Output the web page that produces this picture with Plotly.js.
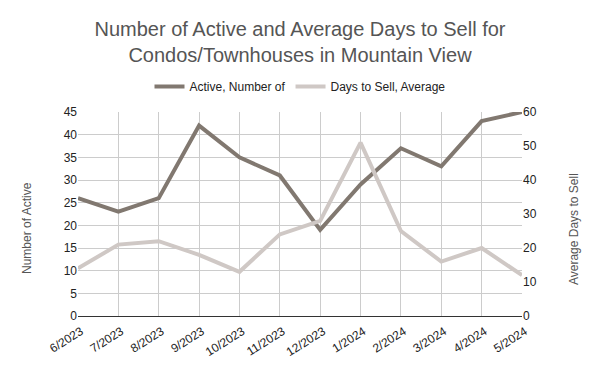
<!DOCTYPE html>
<html>
<head>
<meta charset="utf-8">
<script src="https://cdn.plot.ly/plotly-3.0.1.min.js"></script>
<style>html,body{margin:0;padding:0;background:#fff;}#chart{width:600px;height:371px;}</style>
</head>
<body>
<div id="chart"></div>
<script>
var months = ["6/2023","7/2023","8/2023","9/2023","10/2023","11/2023","12/2023","1/2024","2/2024","3/2024","4/2024","5/2024"];
var activeCount = [26, 23, 26, 42, 35, 31, 19, 29, 37, 33, 43, 45];
var daysToSell = [14, 21, 22, 18, 13, 24, 28, 51, 25, 16, 20, 12];

var font = "Liberation Sans, Arial, sans-serif";
var traces = [
  {x: months, y: activeCount, name: "Active, Number of", type: "scatter", mode: "lines",
   line: {color: "#817870", width: 4}, yaxis: "y"},
  {x: months, y: daysToSell, name: "Days to Sell, Average", type: "scatter", mode: "lines",
   line: {color: "#cfc8c5", width: 4}, yaxis: "y2"}
];
var layout = {
  width: 600, height: 371,
  margin: {l: 78, r: 78, t: 112, b: 55},
  paper_bgcolor: "#fff", plot_bgcolor: "#fff",
  font: {family: font, size: 12, color: "#222"},
  title: {text: "Number of Active and Average Days to Sell for<br>Condos/Townhouses in Mountain View",
          font: {family: font, size: 20, color: "#555"}, x: 0.5, xanchor: "center", y: 0.904, yanchor: "top"},
  showlegend: true,
  legend: {orientation: "h", x: 0.5, xanchor: "center", y: 1.125, yanchor: "middle",
           font: {family: font, size: 12, color: "#222"}, itemwidth: 30, traceorder: "normal"},
  xaxis: {type: "category", tickangle: -32, showgrid: true, gridcolor: "#cccccc", gridwidth: 1,
          showline: true, linecolor: "#333", linewidth: 1, ticks: "", range: [0, 11],
          ticklabelstandoff: 3, ticklabelshift: 3,
          tickfont: {family: font, size: 12, color: "#222"}, automargin: false},
  yaxis: {range: [0, 45], dtick: 5, showgrid: true, gridcolor: "#cccccc", zeroline: false,
          showline: false, ticks: "", tickfont: {family: font, size: 12, color: "#222"},
          automargin: false},
  yaxis2: {range: [0, 60], dtick: 10, overlaying: "y", side: "right", showgrid: false, zeroline: false,
           ticks: "", tickfont: {family: font, size: 12, color: "#222"},
           automargin: false},
  annotations: [
    {text: "Number of Active", xref: "paper", yref: "paper", x: -0.115, y: 0.431,
     xanchor: "center", yanchor: "middle", textangle: -90, showarrow: false,
     font: {family: font, size: 12, color: "#555"}},
    {text: "Average Days to Sell", xref: "paper", yref: "paper", x: 1.117, y: 0.426,
     xanchor: "center", yanchor: "middle", textangle: -90, showarrow: false,
     font: {family: font, size: 12, color: "#555"}}
  ]
};
Plotly.newPlot("chart", traces, layout, {displayModeBar: false, staticPlot: true});
</script>
</body>
</html>
